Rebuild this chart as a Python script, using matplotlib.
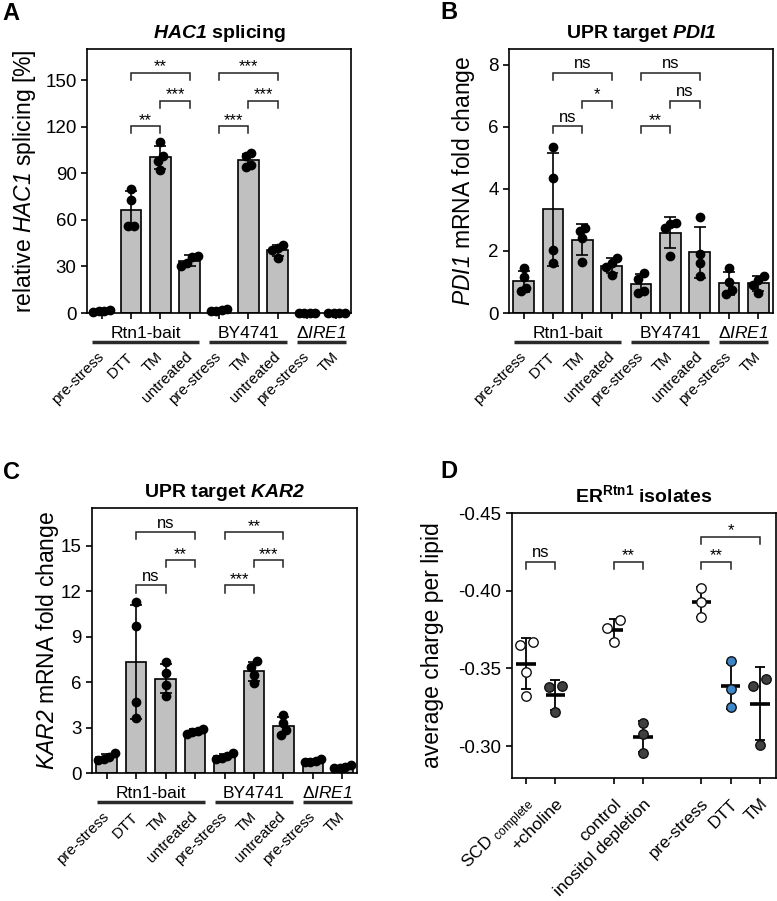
import numpy as np
import matplotlib
matplotlib.use("Agg")
import matplotlib.pyplot as plt
from matplotlib.transforms import ScaledTranslation

plt.rcParams['font.family'] = ['Liberation Sans', 'DejaVu Sans']
plt.rcParams['mathtext.fontset'] = 'custom'
plt.rcParams['mathtext.rm'] = 'Liberation Sans'
plt.rcParams['mathtext.it'] = 'Liberation Sans:italic'
plt.rcParams['mathtext.sf'] = 'Liberation Sans:italic'   # italic incl. digits
plt.rcParams['mathtext.bf'] = 'Liberation Sans:bold'
plt.rcParams['mathtext.bfit'] = 'Liberation Sans:italic:bold'
plt.rcParams['axes.unicode_minus'] = False

# ---------------- data ----------------
conditions = ["pre-stress", "DTT", "TM", "untreated", "pre-stress", "TM",
              "untreated", "pre-stress", "TM"]
strains = ["Rtn1-bait", "BY4741", r"Δ$\mathsf{IRE1}$"]
strain_members = [[0, 1, 2, 3], [4, 5, 6], [7, 8]]

hac1_splicing = [[1.0, 2.0, 1.5, 0.5], [80, 73, 56, 56], [110, 101, 98, 92],
                 [37, 36, 32, 30], [1.5, 2.5, 1.0, 2.0], [103, 101, 95, 94],
                 [43.5, 42, 40.5, 35.5], [0, 0, 0, 0], [0, 0, 0, 0]]
pdi1_fold = [[1.45, 1.15, 0.8, 0.7], [5.35, 4.35, 2.03, 1.6],
             [2.75, 2.65, 2.4, 1.65], [1.78, 1.62, 1.48, 1.22],
             [1.3, 1.1, 0.7, 0.65], [2.9, 2.85, 2.75, 1.85],
             [3.1, 1.9, 1.6, 1.2], [1.45, 1.0, 0.75, 0.6],
             [1.2, 1.05, 0.9, 0.65]]
kar2_fold = [[1.3, 1.05, 0.95, 0.85], [11.3, 9.7, 4.7, 3.64],
             [7.35, 6.62, 5.83, 5.1], [2.9, 2.8, 2.7, 2.55],
             [1.35, 1.1, 1.0, 0.95], [7.4, 7.0, 6.5, 5.95],
             [3.84, 3.3, 2.85, 2.5], [0.95, 0.8, 0.75, 0.7],
             [0.5, 0.4, 0.35, 0.3]]

sig_pairs = [(1, 3), (2, 3), (1, 2), (4, 6), (5, 6), (4, 5)]
sig_hac1 = ["**", "***", "**", "***", "***", "***"]
sig_pdi1 = ["ns", "*", "ns", "ns", "ns", "**"]
sig_kar2 = ["ns", "**", "ns", "**", "***", "***"]

d_labels = [r"SCD $_{\mathrm{complete}}$", "+choline", "control",
            "inositol depletion", "pre-stress", "DTT", "TM"]
d_positions = [0, 1, 3, 4, 6, 7, 8]
d_charge = [[-0.367, -0.365, -0.348, -0.332], [-0.339, -0.338, -0.322],
            [-0.381, -0.376, -0.367], [-0.315, -0.308, -0.2955],
            [-0.402, -0.393, -0.383], [-0.3545, -0.337, -0.325],
            [-0.343, -0.3385, -0.3006]]
d_colors = ["white", "#404040", "white", "#404040", "white", "#3e86c7", "#404040"]
d_sig_pairs = [(0, 1), (2, 3), (4, 5), (4, 6)]
d_sig = ["ns", "**", "**", "*"]

# ---------------- figure ----------------
W, H = 777, 901
fig = plt.figure(figsize=(W / 100, H / 100), dpi=100)


def px_axes(l, t, r, b):
    return fig.add_axes([l / W, 1 - b / H, (r - l) / W, (b - t) / H])


def style_axes(ax):
    for s in ax.spines.values():
        s.set_linewidth(1.2)
    ax.tick_params(axis='both', direction='out', length=4, width=1.2,
                   labelsize=13.5, colors='black')


def swarm(ax, x0, vals, step_px, thresh_px):
    """Symmetric beeswarm: points closer than thresh (in pixels) are
    spread side by side, centred on the category."""
    ppu = ax.transData.transform((1, 0))[0] - ax.transData.transform((0, 0))[0]
    ypx = [ax.transData.transform((0, v))[1] for v in vals]
    order = np.argsort(ypx)
    clusters = []
    for idx in order:
        if clusters and abs(ypx[idx] - ypx[clusters[-1][-1]]) < thresh_px:
            clusters[-1].append(idx)
        else:
            clusters.append([idx])
    xs = [x0] * len(vals)
    for cl in clusters:
        n = len(cl)
        for i, idx in enumerate(cl):
            xs[idx] = x0 + (i - (n - 1) / 2) * step_px / ppu
    return xs


def bracket(ax, x1, x2, yf, label, leg=0.027):
    tr = ax.get_xaxis_transform()
    ax.plot([x1, x1, x2, x2], [yf - leg, yf, yf, yf - leg], transform=tr,
            color='#222222', lw=1.1, clip_on=False, solid_joinstyle='miter')
    off = -0.006 if '*' in label else 0.006
    ax.text((x1 + x2) / 2, yf + off, label, transform=tr, ha='center',
            va='bottom', fontsize=12)


def bar_panel(ax, data, ylim, yticks, ylabel, title, sigs, label_x):
    style_axes(ax)
    x = np.arange(len(data))
    means = [np.mean(d) for d in data]
    sds = [np.std(d, ddof=1) for d in data]
    ax.set_xlim(-0.5, 8.5)
    ax.set_ylim(*ylim)
    ax.bar(x, means, width=0.7, color='#c0c0c0', edgecolor='black',
           linewidth=1.2, zorder=2)
    ax.errorbar(x, means, yerr=sds, fmt='none', ecolor='black',
                elinewidth=1.2, capsize=4.3, capthick=1.2, zorder=3)
    for xi, d in zip(x, data):
        xs = swarm(ax, xi, d, 5.5, 6.5)
        ax.plot(xs, d, 'o', color='black', ms=6, mec='black', zorder=4,
                clip_on=False)
    ax.set_yticks(yticks)
    ax.set_xticks(x)
    ax.set_xticklabels(conditions, rotation=45, ha='right', va='center',
                       rotation_mode='anchor', fontsize=11)
    ax.tick_params(axis='x', pad=26)
    ax.set_ylabel(ylabel, fontsize=16.5)
    ax.yaxis.set_label_coords(label_x, 0.5)
    ax.set_title(title, fontsize=14, fontweight='bold', pad=8)
    tr = ax.get_xaxis_transform()
    hpx = ax.get_position().height * H
    for name, mem in zip(strains, strain_members):
        ax.plot([mem[0] - 0.33, mem[-1] + 0.33], [-29 / hpx] * 2, transform=tr,
                color='#2a2a2a', lw=2.5, clip_on=False, solid_capstyle='butt')
        ax.text((mem[0] + mem[-1]) / 2, -25 / hpx, name, transform=tr,
                ha='center', va='baseline', fontsize=12.5)
    levels = [0.909, 0.803, 0.708]
    for i, ((a, b), s) in enumerate(zip(sig_pairs, sigs)):
        bracket(ax, a, b, levels[i % 3], s)


axA = px_axes(87, 49, 351, 313)
bar_panel(axA, hac1_splicing, (0, 170), [0, 30, 60, 90, 120, 150],
          r"relative $\mathsf{HAC1}$ splicing [%]",
          r"$\mathbfit{HAC1}$ splicing", sig_hac1, -0.186)

axB = px_axes(509, 49, 773, 313)
bar_panel(axB, pdi1_fold, (0, 8.5), [0, 2, 4, 6, 8],
          r"$\mathsf{PDI1}$ mRNA fold change",
          r"UPR target $\mathbfit{PDI1}$", sig_pdi1, -0.122)

axC = px_axes(92, 508, 357, 773)
bar_panel(axC, kar2_fold, (0, 17.5), [0, 3, 6, 9, 12, 15],
          r"$\mathsf{KAR2}$ mRNA fold change",
          r"UPR target $\mathbfit{KAR2}$", sig_kar2, -0.118)

# ---------------- panel D ----------------
axD = px_axes(512, 513, 776, 778)
style_axes(axD)
axD.set_xlim(-0.48, 8.55)
axD.set_ylim(-0.2795, -0.45)
axD.set_yticks([-0.45, -0.40, -0.35, -0.30])
axD.set_yticklabels(["-0.45", "-0.40", "-0.35", "-0.30"])
for p, vals, c in zip(d_positions, d_charge, d_colors):
    m = np.mean(vals)
    sd = np.std(vals, ddof=1)
    axD.errorbar([p], [m], yerr=[sd], fmt='none', ecolor='black',
                 elinewidth=1.3, capsize=3.6, capthick=1.3, zorder=2)
    axD.plot([p - 0.33, p + 0.33], [m, m], color='black', lw=2.6, zorder=2,
             solid_capstyle='butt')
    xs = swarm(axD, p, vals, 13, 9)
    axD.plot(xs, vals, 'o', ms=6.8, mfc=c, mec='#111111', mew=1.0, zorder=4)
axD.set_xticks(d_positions)
axD.set_xticklabels(d_labels, rotation=45, ha='right', va='center',
                    rotation_mode='anchor', fontsize=12.5)
axD.tick_params(axis='x', pad=13)
for lab in axD.get_xticklabels():
    lab.set_transform(lab.get_transform() +
                      ScaledTranslation(5 / 100, 0, fig.dpi_scale_trans))
axD.set_ylabel("average charge per lipid", fontsize=16.5)
axD.yaxis.set_label_coords(-0.258, 0.5)
axD.set_title(r"ER$^{\mathbf{Rtn1}}$ isolates", fontsize=14,
              fontweight='bold', pad=8)
for (a, b), s, lv in zip(d_sig_pairs, d_sig, [0.815, 0.815, 0.815, 0.91]):
    bracket(axD, d_positions[a], d_positions[b], lv, s)

# panel letters
for letter, (lx, ly) in zip("ABCD", [(2, 20), (440, 19), (3, 479), (440, 478)]):
    fig.text(lx / W, 1 - ly / H, letter, fontsize=17, fontweight='bold',
             va='baseline', ha='left')

fig.savefig("out.png", dpi=100)
